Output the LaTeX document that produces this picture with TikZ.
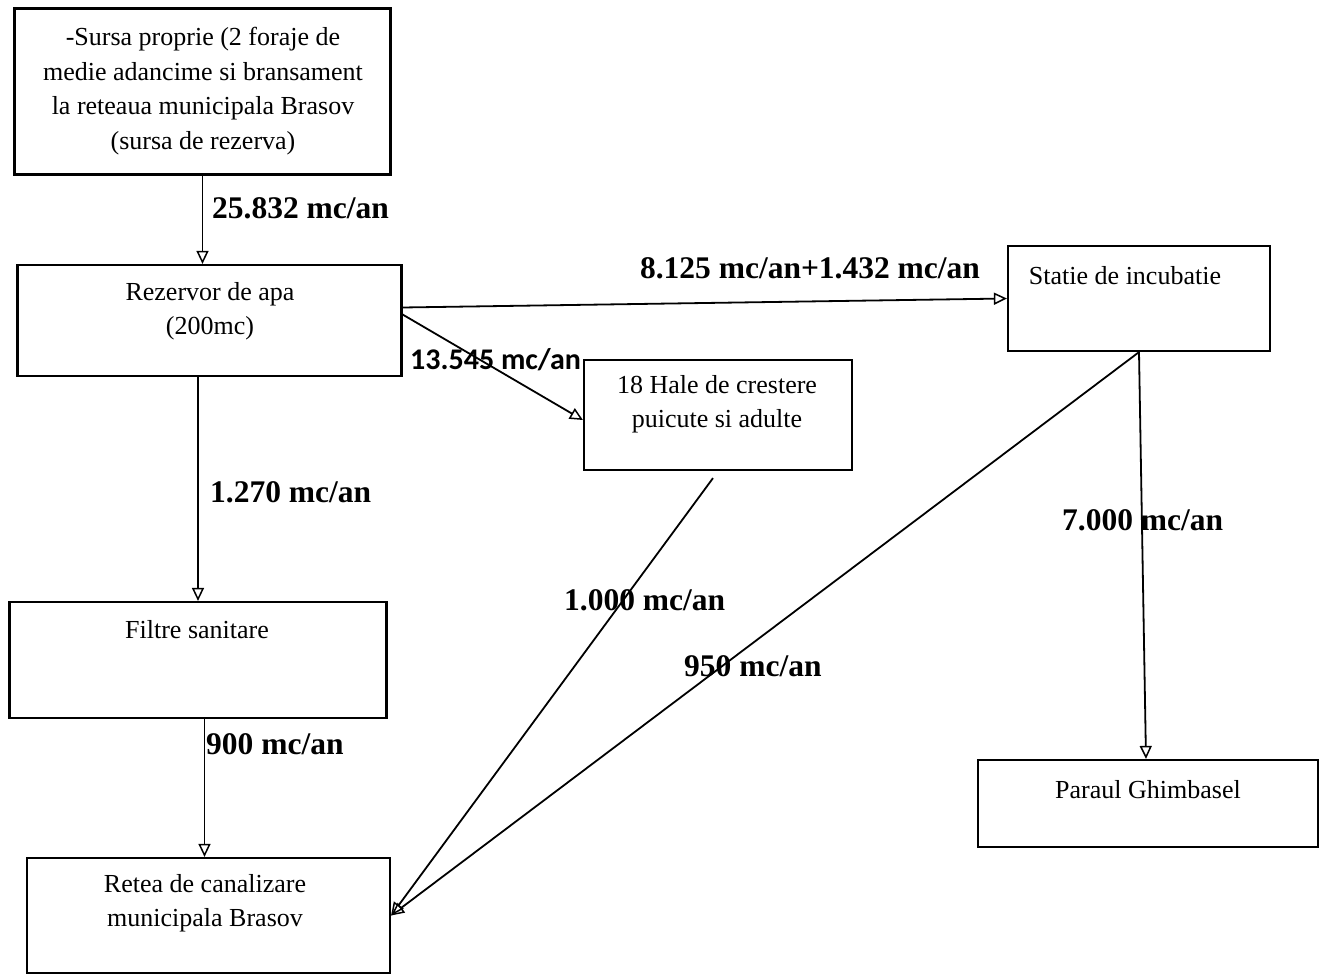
\documentclass[tikz,border=0pt]{standalone}
\usepackage{fontspec}
\setmainfont{Liberation Serif}
\newfontfamily\lblsans{Carlito}
\usetikzlibrary{arrows.meta,calc}
\begin{document}
\begin{tikzpicture}[x=1pt,y=-1pt,
  box/.style={draw,line width=2.2pt,inner sep=0pt},
  txt/.style={align=center,inner sep=0pt,font=\fontsize{26}{34.5}\selectfont},
  flow/.style={line width=1.8pt,-{Triangle[open,length=13pt,width=12pt,line width=1.5pt]}},
  qty/.style={inner sep=0pt,font=\fontsize{31.5}{34}\selectfont\bfseries},
  qtys/.style={inner sep=0pt,font=\fontsize{30}{34}\selectfont\lblsans\bfseries}]
\useasboundingbox[fill=white] (0,0) rectangle (1323,976);
% boxes
\node[box,minimum width=376pt,minimum height=166pt] (src) at (202.5,91.5) {};
\node[box,minimum width=384pt,minimum height=111pt] (rez) at (209.5,320.5) {};
\node[box,minimum width=262pt,minimum height=105pt] (stat) at (1139,298.5) {};
\node[box,minimum width=268pt,minimum height=110pt] (hale) at (718,415) {};
\node[box,minimum width=377pt,minimum height=116pt] (filt) at (198,660) {};
\node[box,minimum width=340pt,minimum height=87pt] (par) at (1148,803.5) {};
\node[box,minimum width=363pt,minimum height=115pt] (ret) at (208.5,915.5) {};
% box texts
\node[txt] (tsrc) at (203,91) {-Sursa proprie (2 foraje de\\medie adancime si bransament\\la reteaua municipala Brasov\\(sursa de rezerva)};
\node[txt] (trez) at (210,311) {Rezervor de apa\\(200mc)};
\node[txt] (tstat) at (1125,276) {Statie de incubatie};
\node[txt] (thale) at (717,404) {18 Hale de crestere\\puicute si adulte};
\node[txt] (tfilt) at (197,630) {Filtre sanitare};
\node[txt] (tpar) at (1148,790) {Paraul Ghimbasel};
\node[txt] (tret) at (205,903) {Retea de canalizare\\municipala Brasov};
% connectors
\draw[flow] (src.south) -- (src.south |- rez.north);
\draw[flow] ([yshift=13pt]rez.east) -- (stat.west);
\draw[flow] ([yshift=6pt]rez.east) -- ([yshift=-5pt]hale.west);
\draw[flow] (filt.north |- rez.south) -- (filt.north);
\draw[flow] ([xshift=-4pt]ret.north |- filt.south) -- ([xshift=-4pt]ret.north);
\coordinate (hs) at ([xshift=-5pt,yshift=-7pt]hale.south);
\draw[flow] (hs) -- (ret.east);
\draw[flow] (stat.south) -- (ret.east);
\draw[flow] (stat.south) -- ([xshift=-2pt]par.north);
% labels
\node[qty,anchor=west] (l1) at (212,208) {25.832 mc/an};
\node[qty] (l2) at (810,268) {8.125 mc/an+1.432 mc/an};
\node[qtys,anchor=west] (l3) at (410,360) {13.545 mc/an};
\node[qty,anchor=west] (l4) at (210,492) {1.270 mc/an};
\node[qty,anchor=west] (l5) at (206,744) {900 mc/an};
\node[qty,anchor=west] (l6) at (564,600) {1.000 mc/an};
\node[qty,anchor=west] (l7) at (684,666) {950 mc/an};
\node[qty,anchor=west] (l8) at (1062,520) {7.000 mc/an};
\end{tikzpicture}
\end{document}
